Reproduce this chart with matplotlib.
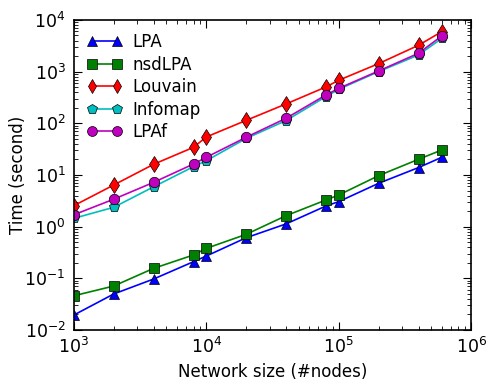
import matplotlib
matplotlib.use("Agg")
import matplotlib.pyplot as plt
from matplotlib.ticker import LogLocator, NullFormatter

sizes = [1e3, 2e3, 4e3, 8e3, 1e4, 2e4, 4e4, 8e4, 1e5, 2e5, 4e5, 6e5]
lpa = [0.0195, 0.0498, 0.097, 0.21, 0.27, 0.61, 1.13, 2.51, 3.05, 6.9, 13.9, 22]
nsdlpa = [0.046, 0.071, 0.156, 0.283, 0.38, 0.71, 1.63, 3.28, 4.1, 9.7, 20.1, 30.5]
louvain = [2.55, 6.4, 16.1, 34.3, 54.4, 114, 237, 505, 681, 1429, 3236, 5940]
infomap = [1.45, 2.37, 5.9, 14.5, 18.9, 51, 113, 328, 455, 1000, 2100, 4400]
lpaf = [1.7, 3.4, 7.2, 16.3, 22, 53.7, 125, 353, 475, 1030, 2265, 4900]

series = [
    ("LPA", lpa, "b", "^"),
    ("nsdLPA", nsdlpa, "g", "s"),
    ("Louvain", louvain, "r", "d"),
    ("Infomap", infomap, "c", "p"),
    ("LPAf", lpaf, "m", "o"),
]

plt.rcParams["font.family"] = "DejaVu Sans"
plt.rcParams["mathtext.default"] = "regular"
fig = plt.figure(figsize=(4.96, 3.91), dpi=100)
ax = fig.add_axes([0.149, 0.156, 0.801, 0.793])

for name, vals, col, mk in series:
    ax.plot(sizes, vals, color=col, marker=mk, markersize=7.5 if mk != "d" else 8,
            markeredgecolor="black", markeredgewidth=0.5, linewidth=1.2, label=name)

ax.set_xscale("log")
ax.set_yscale("log")
ax.set_xlim(1e3, 1e6)
ax.set_ylim(1e-2, 1e4)
ax.xaxis.set_minor_locator(LogLocator(base=10, subs=range(2, 10)))
ax.yaxis.set_minor_locator(LogLocator(base=10, subs=range(2, 10)))
ax.xaxis.set_minor_formatter(NullFormatter())
ax.yaxis.set_minor_formatter(NullFormatter())
ax.tick_params(which="both", direction="in", top=True, right=True, labelsize=12.5)
ax.tick_params(which="major", length=6, width=0.8)
ax.tick_params(which="minor", length=3, width=0.6)
ax.tick_params(axis="x", pad=5)
ax.tick_params(axis="y", pad=6)
for s in ax.spines.values():
    s.set_linewidth(1.2)

ax.set_xlabel("Network size (#nodes)", fontsize=12)
ax.set_ylabel("Time (second)", fontsize=12)
ax.yaxis.set_label_coords(-0.118, 0.5)

ax.legend(loc="upper left", frameon=False, numpoints=2, fontsize=12,
          handlelength=2.1, handletextpad=0.6, labelspacing=0.27,
          borderaxespad=0.45, borderpad=0.35, markerscale=0.95)

fig.savefig("out.png", dpi=100)
